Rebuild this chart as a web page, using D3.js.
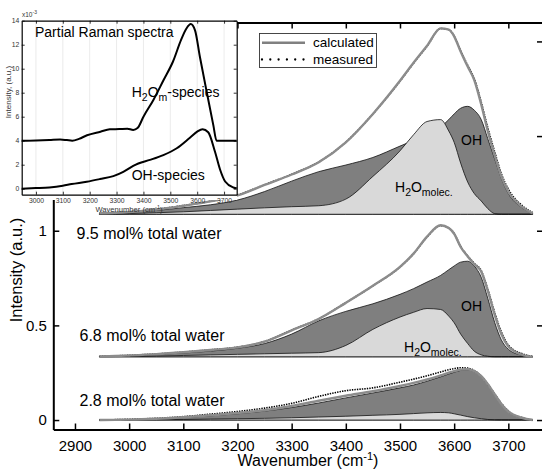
<!DOCTYPE html>
<html>
<head>
<meta charset="utf-8">
<script src="https://cdn.jsdelivr.net/npm/d3@7"></script>
<style>
body { margin: 0; background: #fff; }
svg { display: block; font-family: "Liberation Sans", Arial, sans-serif; }
</style>
</head>
<body>
<svg id="chart" width="542" height="470"></svg>
<script>
// wavenumber grid (cm-1) shared by the three stacked spectra
var wavenumbers = [2945, 2975, 3000, 3050, 3100, 3150, 3200, 3250, 3300, 3350, 3400, 3450, 3500, 3525,
    3550, 3575, 3590, 3600, 3612, 3625, 3637, 3650, 3662, 3675, 3687, 3700, 3725, 3745];

// 9.5 mol% (values above its own baseline)
var calc95 = [0.005, 0.008, 0.012, 0.025, 0.045, 0.068, 0.1, 0.155, 0.21, 0.275, 0.38, 0.53, 0.705, 0.8,
    0.89, 0.982, 0.975, 0.94, 0.86, 0.78, 0.71, 0.58, 0.44, 0.31, 0.2, 0.12, 0.04, 0.005];
var meas95 = [0.006, 0.009, 0.013, 0.026, 0.046, 0.069, 0.101, 0.156, 0.211, 0.276, 0.381, 0.53, 0.703, 0.798,
    0.888, 0.981, 0.975, 0.942, 0.865, 0.786, 0.717, 0.592, 0.458, 0.328, 0.215, 0.133, 0.047, 0.009];
var oh95 = [0.003, 0.006, 0.01, 0.02, 0.035, 0.05, 0.075, 0.12, 0.175, 0.225, 0.26, 0.3, 0.36, 0.39,
    0.42, 0.46, 0.5, 0.53, 0.56, 0.57, 0.55, 0.5, 0.4, 0.29, 0.19, 0.11, 0.035, 0.004];
var h2o95 = [0.001, 0.002, 0.004, 0.008, 0.013, 0.02, 0.027, 0.034, 0.04, 0.045, 0.08, 0.2, 0.335, 0.42,
    0.49, 0.5, 0.44, 0.38, 0.27, 0.17, 0.11, 0.07, 0.03, 0.003, 0, 0, 0, 0];

// 6.8 mol%
var calc68 = [0.002, 0.004, 0.007, 0.014, 0.024, 0.036, 0.05, 0.08, 0.14, 0.2, 0.285, 0.375, 0.475, 0.545,
    0.635, 0.695, 0.68, 0.65, 0.58, 0.53, 0.49, 0.45, 0.35, 0.22, 0.12, 0.055, 0.012, 0];
var meas68 = [0.003, 0.005, 0.008, 0.015, 0.025, 0.037, 0.051, 0.081, 0.141, 0.201, 0.286, 0.375, 0.474, 0.544,
    0.633, 0.693, 0.68, 0.651, 0.583, 0.533, 0.494, 0.455, 0.358, 0.232, 0.132, 0.062, 0.017, 0.002];
var oh68 = [0.002, 0.004, 0.006, 0.012, 0.02, 0.03, 0.045, 0.07, 0.12, 0.19, 0.24, 0.28, 0.33, 0.36,
    0.395, 0.43, 0.46, 0.48, 0.5, 0.505, 0.48, 0.42, 0.31, 0.18, 0.09, 0.04, 0.008, 0];
var h2o68 = [0, 0.001, 0.002, 0.004, 0.007, 0.01, 0.013, 0.016, 0.019, 0.022, 0.06, 0.145, 0.21, 0.235,
    0.255, 0.25, 0.215, 0.18, 0.12, 0.07, 0.03, 0.01, 0.003, 0, 0, 0, 0, 0];

// 2.8 mol%
var calc28 = [0, 0.001, 0.002, 0.007, 0.015, 0.025, 0.037, 0.052, 0.074, 0.102, 0.128, 0.152, 0.18, 0.196,
    0.214, 0.236, 0.25, 0.258, 0.266, 0.268, 0.258, 0.232, 0.19, 0.135, 0.085, 0.045, 0.012, 0];
var meas28 = [0, 0.002, 0.004, 0.009, 0.018, 0.031, 0.045, 0.063, 0.088, 0.125, 0.155, 0.17, 0.2, 0.216,
    0.234, 0.254, 0.266, 0.272, 0.276, 0.274, 0.262, 0.232, 0.19, 0.137, 0.088, 0.047, 0.013, 0];
var oh28 = [0, 0.001, 0.002, 0.006, 0.013, 0.022, 0.033, 0.047, 0.066, 0.09, 0.117, 0.143, 0.17, 0.185,
    0.205, 0.228, 0.243, 0.252, 0.262, 0.265, 0.255, 0.229, 0.187, 0.133, 0.083, 0.043, 0.011, 0];
var h2o28 = [0, 0, 0.001, 0.002, 0.003, 0.005, 0.007, 0.009, 0.012, 0.016, 0.02, 0.025, 0.03, 0.034,
    0.038, 0.04, 0.038, 0.033, 0.026, 0.018, 0.012, 0.007, 0.003, 0.001, 0, 0, 0, 0];

var sampleNames = ["2.8 mol% total water", "6.8 mol% total water", "9.5 mol% total water"];
var sampleOffsets = [0, 0.334, 1.087];

var xTicks = [2900, 3000, 3100, 3200, 3300, 3400, 3500, 3600, 3700];
var yTicks = [0, 0.5, 1, 1.5, 2];
var yTickLabels = ["0", "0.5", "1"];

// inset: partial Raman spectra (x10^-3)
var insetH2omWavenumbers = [2947, 3000, 3050, 3090, 3115, 3135, 3160, 3190, 3240, 3275, 3310, 3340, 3362, 3378,
    3400, 3437, 3475, 3510, 3540, 3560, 3576, 3592, 3610, 3636, 3660, 3672, 3700, 3747];
var insetH2omValues = [0, 0.02, 0.06, 0.1, 0.05, 0, 0.15, 0.45, 0.75, 0.95, 0.97, 1.0, 0.9, 1.05,
    2.0, 3.4, 5.06, 6.6, 8.4, 9.35, 9.72, 9.2, 7.0, 4.0, 1.3, 0, 0, 0];
var insetH2omOffset = 4;
var insetOhWavenumbers = [2947, 3000, 3050, 3100, 3133, 3189, 3238, 3288, 3325, 3362, 3381, 3424, 3474, 3524,
    3573, 3600, 3620, 3641, 3666, 3685, 3704, 3735, 3747];
var insetOhValues = [0, 0.05, 0.11, 0.25, 0.39, 0.58, 0.8, 1.05, 1.4, 1.9, 2.1, 2.4, 2.8, 3.37,
    4.25, 4.75, 4.95, 4.7, 3.1, 1.6, 0.6, 0.1, 0.03];
var insetXTicks = [3000, 3100, 3200, 3300, 3400, 3500, 3600, 3700];
var insetYTicks = [0, 2, 4, 6, 8, 10, 12, 14];

var DARK = "#7f7f7f", LIGHT = "#d9d9d9", CALC = "#8c8c8c";
var FONT = "Liberation Sans, Arial, sans-serif";

function pairs(ws, vs, off) {
    return ws.map(function(w, i) { return { w: w, v: vs[i] + (off || 0) }; });
}

function main() {
    var svg = d3.select("#chart");
    var x = d3.scaleLinear().domain([2860, 3764]).range([53.3, 543]);
    var y = d3.scaleLinear().domain([-0.05, 2.1]).range([429.5, 22.5]);

    var samples = [
        { calc: calc28, meas: meas28, oh: oh28, h2o: h2o28 },
        { calc: calc68, meas: meas68, oh: oh68, h2o: h2o68 },
        { calc: calc95, meas: meas95, oh: oh95, h2o: h2o95 }
    ];

    samples.forEach(function(s, i) {
        drawSpectrum(svg, s, sampleOffsets[i], x, y);
    });

    drawMainAxes(svg, x, y);
    drawMainLabels(svg);
    drawInset(svg);
    drawLegend(svg);
}

function drawSpectrum(svg, s, off, x, y) {
    var g = svg.append("g").attr("class", "spectrum");
    var area = d3.area()
        .curve(d3.curveMonotoneX)
        .x(function(d) { return x(d.w); })
        .y0(y(off))
        .y1(function(d) { return y(d.v); });
    var line = d3.line()
        .curve(d3.curveMonotoneX)
        .x(function(d) { return x(d.w); })
        .y(function(d) { return y(d.v); });

    g.append("path")
        .attr("d", area(pairs(wavenumbers, s.oh, off)))
        .attr("fill", DARK)
        .attr("stroke", "#111")
        .attr("stroke-width", 0.8);
    g.append("path")
        .attr("d", area(pairs(wavenumbers, s.h2o, off)))
        .attr("fill", LIGHT)
        .attr("stroke", "#111")
        .attr("stroke-width", 0.8);
    g.append("path")
        .attr("d", line(pairs(wavenumbers, s.meas, off)))
        .attr("fill", "none")
        .attr("stroke", "#000")
        .attr("stroke-width", 1.6)
        .attr("stroke-dasharray", "1.4,1.1");
    g.append("path")
        .attr("d", line(pairs(wavenumbers, s.calc, off)))
        .attr("fill", "none")
        .attr("stroke", CALC)
        .attr("stroke-width", 2.4);
}

function drawMainAxes(svg, x, y) {
    var fmt = d3.format("d");
    var bottom = svg.append("g")
        .attr("transform", "translate(0,429.5)")
        .call(d3.axisBottom(x).tickValues(xTicks).tickSizeInner(-6).tickSizeOuter(0)
            .tickPadding(10.5).tickFormat(fmt));
    var top = svg.append("g")
        .attr("transform", "translate(0,22.5)")
        .call(d3.axisTop(x).tickValues(xTicks).tickSizeInner(-6).tickSizeOuter(0).tickFormat(""));
    var left = svg.append("g")
        .attr("transform", "translate(53.3,0)")
        .call(d3.axisLeft(y).tickValues(yTicks.slice(0, 3)).tickSizeInner(-6).tickSizeOuter(0)
            .tickPadding(6.5).tickFormat(function(d, i) { return yTickLabels[i]; }));
    var right = svg.append("g")
        .attr("transform", "translate(543,0)")
        .call(d3.axisRight(y).tickValues(yTicks).tickSizeInner(-6).tickSizeOuter(0).tickFormat(""));

    [bottom, top, left, right].forEach(function(a) {
        a.select(".domain").attr("stroke", "#000").attr("stroke-width", 2);
        a.selectAll(".tick line").attr("stroke", "#000").attr("stroke-width", 1.5);
        a.selectAll(".tick text")
            .attr("fill", "#000")
            .style("font-size", "15px")
            .style("font-family", FONT);
    });

    svg.append("text")
        .attr("x", 308)
        .attr("y", 466)
        .attr("text-anchor", "middle")
        .style("font-size", "16px")
        .text("Wavenumber (cm")
        .append("tspan").attr("dy", -6).style("font-size", "11px").text("-1")
        .select(function() { return this.parentNode; })
        .append("tspan").attr("dy", 6).text(")");

    svg.append("text")
        .attr("transform", "translate(22,270) rotate(-90)")
        .attr("text-anchor", "middle")
        .style("font-size", "16.5px")
        .text("Intensity (a.u.)");
}

function subLabel(parent, px, py, size, parts) {
    // parts: [text, isSubscript]
    var t = parent.append("text").attr("x", px).attr("y", py).style("font-size", size + "px");
    var shifted = false;
    parts.forEach(function(p) {
        var dy = 0;
        if (p[1] && !shifted) { dy = 4; shifted = true; }
        else if (!p[1] && shifted) { dy = -4; shifted = false; }
        t.append("tspan")
            .attr("dy", dy)
            .style("font-size", p[1] ? (size * 0.75) + "px" : size + "px")
            .text(p[0]);
    });
    return t;
}

function drawMainLabels(svg) {
    var labelPos = [[79.5, 405.5], [79.5, 341], [76.5, 239]];
    sampleNames.forEach(function(name, i) {
        svg.append("text")
            .attr("x", labelPos[i][0])
            .attr("y", labelPos[i][1])
            .style("font-size", "16px")
            .text(name);
    });
    svg.append("text").attr("x", 461).attr("y", 145).style("font-size", "14px").text("OH");
    svg.append("text").attr("x", 461).attr("y", 311).style("font-size", "14px").text("OH");
    subLabel(svg, 395, 191.5, 14, [["H", false], ["2", true], ["O", false], ["molec.", true]]);
    subLabel(svg, 404, 351.5, 14, [["H", false], ["2", true], ["O", false], ["molec.", true]]);
}

function drawInset(svg) {
    var ix = d3.scaleLinear().domain([2947, 3747]).range([21.7, 236.7]);
    var iy = d3.scaleLinear().domain([-0.5, 14]).range([194.7, 20.7]);
    var g = svg.append("g").attr("class", "inset");

    g.append("rect").attr("x", 0).attr("y", 0).attr("width", 237).attr("height", 200).attr("fill", "#fff");

    g.selectAll(".grid")
        .data(insetXTicks)
        .enter().append("line")
        .attr("x1", function(d) { return ix(d); })
        .attr("x2", function(d) { return ix(d); })
        .attr("y1", 20.7)
        .attr("y2", 194.7)
        .attr("stroke", "#e6e6e6")
        .attr("stroke-width", 0.8);

    var line = d3.line()
        .curve(d3.curveMonotoneX)
        .x(function(d) { return ix(d.w); })
        .y(function(d) { return iy(d.v); });
    g.append("path")
        .attr("d", line(pairs(insetH2omWavenumbers, insetH2omValues, insetH2omOffset)))
        .attr("fill", "none").attr("stroke", "#000").attr("stroke-width", 2);
    g.append("path")
        .attr("d", line(pairs(insetOhWavenumbers, insetOhValues, 0)))
        .attr("fill", "none").attr("stroke", "#000").attr("stroke-width", 2);

    var fmt = d3.format("d");
    var axes = [
        g.append("g").attr("transform", "translate(0,194.7)")
            .call(d3.axisBottom(ix).tickValues(insetXTicks).tickSizeInner(-3).tickSizeOuter(0)
                .tickPadding(3.5).tickFormat(fmt)),
        g.append("g").attr("transform", "translate(0,20.7)")
            .call(d3.axisTop(ix).tickValues(insetXTicks).tickSizeInner(-3).tickSizeOuter(0).tickFormat("")),
        g.append("g").attr("transform", "translate(21.7,0)")
            .call(d3.axisLeft(iy).tickValues(insetYTicks).tickSizeInner(-3).tickSizeOuter(0)
                .tickPadding(2.5).tickFormat(fmt)),
        g.append("g").attr("transform", "translate(236.7,0)")
            .call(d3.axisRight(iy).tickValues(insetYTicks).tickSizeInner(-3).tickSizeOuter(0).tickFormat(""))
    ];
    axes.forEach(function(a) {
        a.select(".domain").attr("stroke", "#000").attr("stroke-width", 1.2);
        a.selectAll(".tick line").attr("stroke", "#000").attr("stroke-width", 0.8);
        a.selectAll(".tick text").attr("fill", "#333")
            .style("font-size", "6.8px")
            .style("font-family", FONT);
    });

    g.append("text").attr("x", 22).attr("y", 17).style("font-size", "6.5px").attr("fill", "#333")
        .text("x10")
        .append("tspan").attr("dy", -3).style("font-size", "5px").text("-3");

    g.append("text")
        .attr("transform", "translate(11,92) rotate(-90)")
        .attr("text-anchor", "middle")
        .attr("fill", "#333")
        .style("font-size", "8px")
        .text("Intensity, (a.u.)");

    g.append("text")
        .attr("x", 129).attr("y", 211.5)
        .attr("text-anchor", "middle")
        .attr("fill", "#333")
        .style("font-size", "7.6px")
        .text("Wavenumber (cm")
        .append("tspan").attr("dy", -2.5).style("font-size", "5.5px").text("-1")
        .select(function() { return this.parentNode; })
        .append("tspan").attr("dy", 2.5).text(")");

    g.append("text").attr("x", 35).attr("y", 36.5).style("font-size", "14px").text("Partial Raman spectra");
    subLabel(g, 131.7, 96.7, 14, [["H", false], ["2", true], ["O", false], ["m", true], ["-species", false]]);
    g.append("text").attr("x", 131.7).attr("y", 180).style("font-size", "14px").text("OH-species");
}

function drawLegend(svg) {
    var g = svg.append("g").attr("class", "legend");
    g.append("rect")
        .attr("x", 259.5).attr("y", 33.5).attr("width", 117).attr("height", 34)
        .attr("fill", "#fff").attr("stroke", "#333").attr("stroke-width", 0.9);
    g.append("line")
        .attr("x1", 262).attr("x2", 305).attr("y1", 42.7).attr("y2", 42.7)
        .attr("stroke", "#808080").attr("stroke-width", 2.4);
    g.append("line")
        .attr("x1", 262).attr("x2", 305).attr("y1", 59.5).attr("y2", 59.5)
        .attr("stroke", "#000").attr("stroke-width", 2.3)
        .attr("stroke-linecap", "round")
        .attr("stroke-dasharray", "0,8.3");
    g.append("text").attr("x", 313).attr("y", 47).style("font-size", "13.5px").text("calculated");
    g.append("text").attr("x", 313).attr("y", 63.5).style("font-size", "13.5px").text("measured");
}

main();
</script>
</body>
</html>
